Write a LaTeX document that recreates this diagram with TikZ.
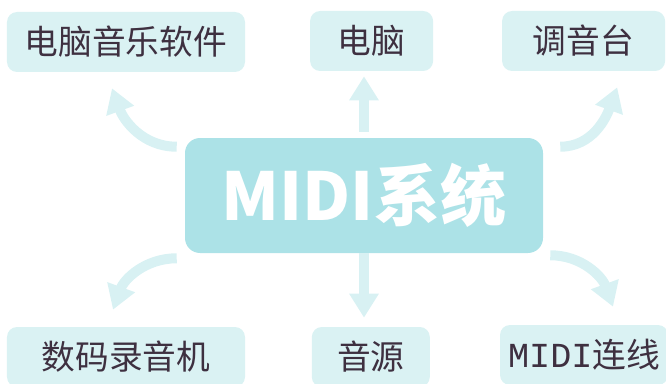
\documentclass[tikz,border=0pt]{standalone}
\usepackage{fontspec}
\newfontfamily\cjk{Noto Sans CJK SC}
\newfontfamily\monofont{Liberation Mono}
\usetikzlibrary{arrows.meta}
\definecolor{sysfill}{RGB}{172,226,231}
\definecolor{boxfill}{RGB}{218,242,243}
\definecolor{arrowfill}{RGB}{216,241,243}
\definecolor{textdark}{RGB}{62,48,64}

\begin{document}
\begin{tikzpicture}[
        item/.style = {fill = boxfill, rounded corners = 0.25cm, minimum height = 1.5cm,
            text = textdark, font = \cjk\fontsize{24}{24}\selectfont},
        flow/.style = {-{Triangle[width = 0.7cm, length = 0.6cm]}, line width = 0.25cm, arrowfill}
    ]
        \clip (0, 0) rectangle (16.65, 9.575);
        \node[fill = sysfill, rounded corners = 0.375cm, minimum width = 8.95cm, minimum height = 2.875cm,
            text = white, font = \cjk\bfseries\fontsize{47}{47}\selectfont] (sys) at (9.1, 4.6875) {MIDI系统};
        \node[item, minimum width = 5.95cm] (soft) at (3.15, 8.525) {电脑音乐软件};
        \node[item, minimum width = 3.075cm] (pc) at (9.29, 8.55) {电脑};
        \node[item, minimum width = 4.075cm] (mixer) at (14.59, 8.55) {调音台};
        \node[item, minimum width = 5.95cm] (rec) at (3.15, 0.65) {数码录音机};
        \node[item, minimum width = 2.95cm] (src) at (9.27, 0.65) {音源};
        \node[item, minimum width = 4.2cm] (cable) at (14.6, 0.7) {{\monofont\fontsize{25}{25}\selectfont MIDI}连线};
        \draw[flow, shorten < = 0.15cm, shorten > = 0.125cm] (sys.north) -- (sys.north |- pc.south);
        \draw[flow, shorten > = 0.225cm] (sys.south) -- (sys.south |- src.north);
        \draw[flow] ([shift = {(-0.2, -0.225)}] sys.north west) to[out = 180, in = -70] ([shift = {(-0.35, -0.4)}] soft.south);
        \draw[flow] ([shift = {(0.425, -0.225)}] sys.north east) to[out = 0, in = -110] ([shift = {(0.84, -0.4)}] mixer.south);
        \draw[flow] ([shift = {(-0.2, -0.125)}] sys.south west) to[out = 180, in = 70] ([shift = {(-0.325, 0.425)}] rec.north);
        \draw[flow] ([shift = {(0.175, -0.05)}] sys.south east) to[out = 0, in = 110] ([shift = {(0.725, 0.45)}] cable.north);
    \end{tikzpicture}
\end{document}
